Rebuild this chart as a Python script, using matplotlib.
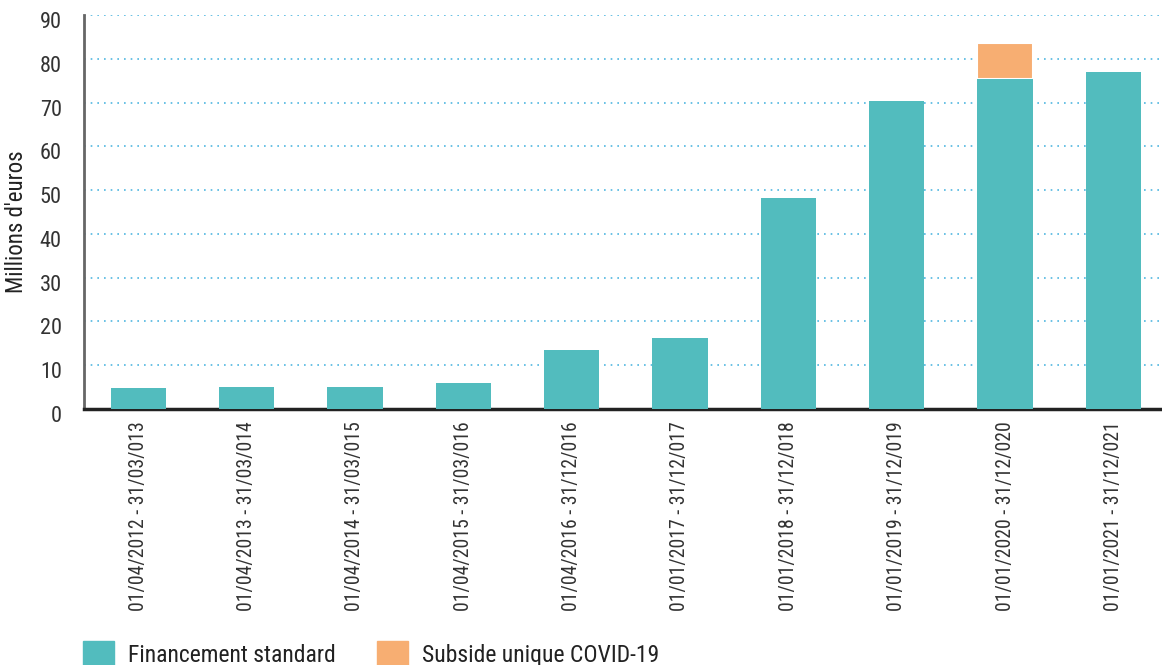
import matplotlib
matplotlib.use("Agg")
import matplotlib.pyplot as plt
import matplotlib.transforms as mtransforms
from matplotlib.patches import Patch

# ---------- данные ----------
periods = ["01/04/2012 - 31/03/013", "01/04/2013 - 31/03/014",
           "01/04/2014 - 31/03/015", "01/04/2015 - 31/03/016",
           "01/04/2016 - 31/12/016", "01/01/2017 - 31/12/017",
           "01/01/2018 - 31/12/018", "01/01/2019 - 31/12/019",
           "01/01/2020 - 31/12/020", "01/01/2021 - 31/12/021"]
standard = [4.8, 5.0, 5.0, 5.9, 13.5, 16.2, 48.2, 70.3, 75.3, 76.9]
covid = [0, 0, 0, 0, 0, 0, 0, 0, 8.3, 0]
yticks = [0, 10, 20, 30, 40, 50, 60, 70, 80, 90]

TEAL = "#52BCBE"
ORANGE = "#F7AE72"
GRID = "#4FB6E0"

plt.rcParams["font.family"] = ["Roboto Condensed", "Liberation Sans Narrow", "DejaVu Sans"]

fig = plt.figure(figsize=(11.62, 6.65), dpi=100)
ax = fig.add_axes([84 / 1162, 1 - 409 / 665, (1160 - 84) / 1162, (409 - 15) / 665])

x = list(range(len(periods)))
ax.bar(x, standard, width=0.51, color=TEAL, zorder=3)
ax.bar(x, covid, width=0.51, bottom=standard, color=ORANGE,
       edgecolor="white", linewidth=1.5, zorder=2)

ax.set_xlim(-0.5, 9.43)
ax.set_ylim(0, 90)
ax.set_yticks(yticks)
ax.set_xticks(x)
ax.set_xticklabels(periods, rotation=90, fontsize=14.2, color="#333333")
ax.tick_params(axis="y", labelsize=16, colors="#333333", length=0, pad=16)
ax.tick_params(axis="x", length=0, pad=9)
ax.yaxis.grid(True, linestyle=(0, (1, 3)), color=GRID, lw=1.2, zorder=0)
ax.set_axisbelow(True)

# подписи оси Y чуть ниже линий сетки, как в оригинале
shift = mtransforms.ScaledTranslation(0, -5 / 100, fig.dpi_scale_trans)
for lbl in ax.get_yticklabels():
    lbl.set_transform(lbl.get_transform() + shift)

for s in ("top", "right"):
    ax.spines[s].set_visible(False)
ax.spines["left"].set_color("#666666")
ax.spines["left"].set_linewidth(2)
ax.spines["bottom"].set_color("#222222")
ax.spines["bottom"].set_linewidth(2.5)

ax.set_ylabel("Millions d'euros", fontsize=16.5, color="#222222")
ax.yaxis.set_label_coords(-0.052, 0.475)

handles = [Patch(color=TEAL, label="Financement standard"),
           Patch(color=ORANGE, label="Subside unique COVID-19")]
fig.legend(handles=handles, loc="lower left", bbox_to_anchor=(62 / 1162, -0.035),
           ncol=2, frameon=False, fontsize=17, handlelength=1.3, handleheight=1.3,
           handletextpad=0.6, columnspacing=1.75, labelcolor="#222222")

fig.savefig("out.png", dpi=100)
